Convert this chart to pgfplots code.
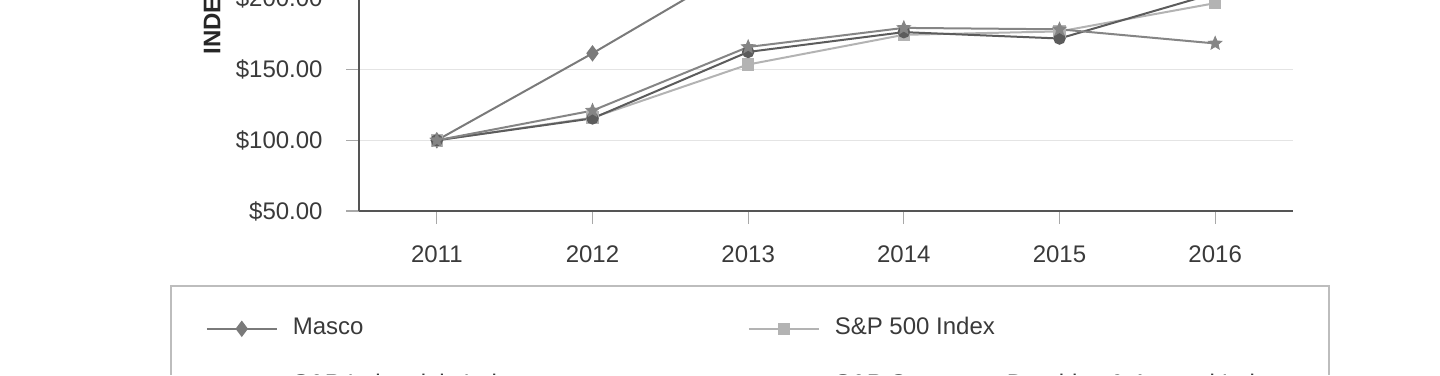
\documentclass[border=0pt]{standalone}
\usepackage{fontspec}
\setmainfont{Liberation Sans}
\usepackage{pgfplots}
\pgfplotsset{compat=1.18}
\definecolor{axisc}{HTML}{555555}
\definecolor{gridc}{HTML}{E4E4E4}
\definecolor{tickm}{HTML}{A8A8A8}
\definecolor{txtc}{HTML}{3A3A3A}
\definecolor{legc}{HTML}{BDBDBD}
\definecolor{cmasco}{HTML}{7A7A7A}
\definecolor{csp}{HTML}{B3B3B3}
\definecolor{cind}{HTML}{5C5C5C}
\definecolor{ccon}{HTML}{858585}
\pgfdeclareplotmark{fstar}{%
  \pgfpathmoveto{\pgfqpointpolar{90}{\pgfplotmarksize}}%
  \pgfpathlineto{\pgfqpointpolar{126}{0.45\pgfplotmarksize}}%
  \pgfpathlineto{\pgfqpointpolar{162}{\pgfplotmarksize}}%
  \pgfpathlineto{\pgfqpointpolar{198}{0.45\pgfplotmarksize}}%
  \pgfpathlineto{\pgfqpointpolar{234}{\pgfplotmarksize}}%
  \pgfpathlineto{\pgfqpointpolar{270}{0.45\pgfplotmarksize}}%
  \pgfpathlineto{\pgfqpointpolar{306}{\pgfplotmarksize}}%
  \pgfpathlineto{\pgfqpointpolar{342}{0.45\pgfplotmarksize}}%
  \pgfpathlineto{\pgfqpointpolar{18}{\pgfplotmarksize}}%
  \pgfpathlineto{\pgfqpointpolar{54}{0.45\pgfplotmarksize}}%
  \pgfpathclose\pgfusepathqfillstroke}
\begin{document}
\fontsize{12pt}{14pt}\selectfont
\begin{tikzpicture}
\path[use as bounding box, clip] (0pt,0pt) rectangle (720pt,187.5pt);
\begin{axis}[
  at={(179.5pt,82pt)}, anchor=south west,
  scale only axis, width=467pt, height=176.75pt,
  xmin=-0.5, xmax=5.5, ymin=50, ymax=300,
  xtick={0,1,2,3,4,5}, xticklabels={2011,2012,2013,2014,2015,2016},
  ytick={50,100,150,200,250,300},
  yticklabels={\$50.00,\$100.00,\$150.00,\$200.00,\$250.00,\$300.00},
  axis x line*=bottom, axis y line*=left,
  axis line style={color=axisc, line width=1.2pt, -},
  ymajorgrids, grid style={color=gridc, line width=0.6pt},
  tick align=outside, major tick length=6.5pt,
  tick style={color=tickm, line width=0.6pt},
  ticklabel style={color=txtc, font=\fontsize{12pt}{14pt}\selectfont},
  yticklabel style={xshift=-7.5pt},
  xticklabel style={yshift=-6.5pt},
  ylabel={INDEXED RETURNS},
  ylabel style={font=\fontsize{12pt}{14pt}\selectfont\bfseries, color=black!85,
    at={(axis description cs:-0.1574,0.4413)}, anchor=west, inner sep=0pt},
  legend columns=2,
  legend cell align=left,
  legend style={at={(axis description cs:-0.2024,-0.2093)}, anchor=north west,
    draw=legc, line width=0.8pt, inner xsep=17.5pt, inner ysep=16pt,
    font=\fontsize{12pt}{14pt}\selectfont, text=txtc,
    nodes={inner sep=0pt, text height=8.5pt, text depth=2.5pt},
    row sep=17.3pt,
    /tikz/every odd column/.append style={column sep=7.5pt}},
  legend image code/.code={\draw[mark repeat=2,mark phase=2] plot coordinates {(0pt,0pt)(17.5pt,0pt)(35pt,0pt)};},
  every axis plot/.append style={line width=1pt},
]
\addplot[color=cmasco, mark=diamond*, mark size=3.3pt, mark options={solid}]
  coordinates {(0,100)(1,161.5)(2,226)(3,250)(4,285)(5,325)};
\addlegendentry{\makebox[227.5pt][l]{Masco}}
\addplot[color=csp, mark=square*, mark size=2.6pt]
  coordinates {(0,100)(1,116)(2,153.6)(3,174.6)(4,177)(5,197)};
\addlegendentry{\makebox[229.5pt][l]{S\&P 500 Index}}
\addplot[color=cind, mark=*, mark size=2.6pt]
  coordinates {(0,100)(1,115.5)(2,162.5)(3,176.5)(4,172)(5,204)};
\addlegendentry{\makebox[227.5pt][l]{S\&P Industrials Index}}
\addplot[color=ccon, mark=fstar, mark size=3.5pt, mark options={line width=0.4pt}]
  coordinates {(0,100)(1,121)(2,166)(3,179.5)(4,178.5)(5,168.5)};
\addlegendentry{\makebox[229.5pt][l]{S\&P Consumer Durables \& Apparel Index}}
\end{axis}
\end{tikzpicture}
\end{document}
